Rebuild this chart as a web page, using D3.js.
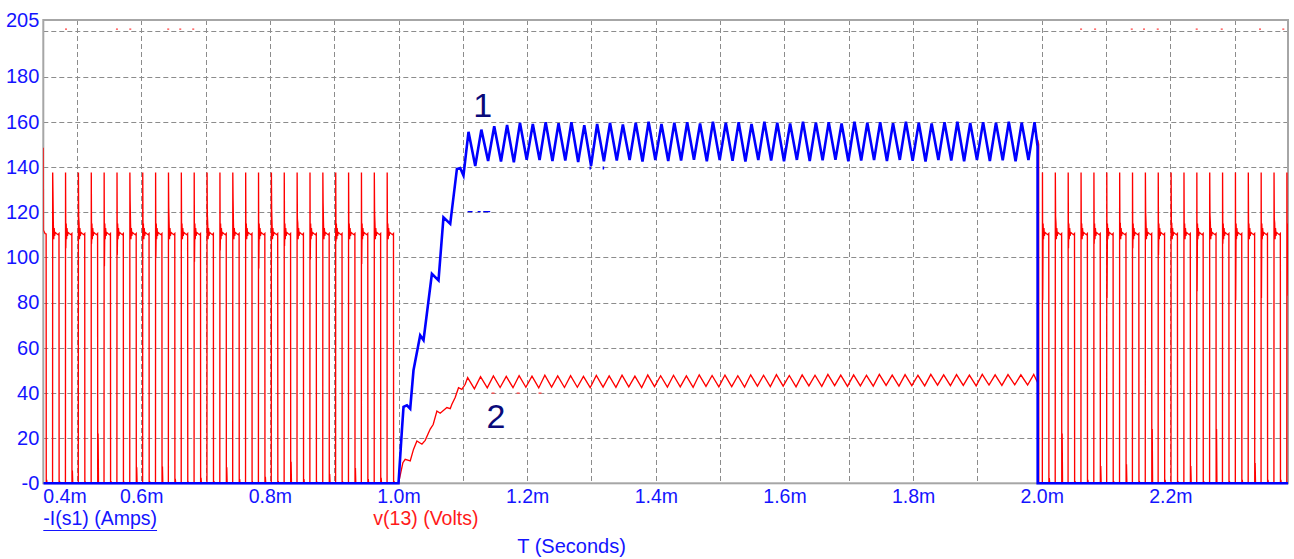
<!DOCTYPE html>
<html>
<head>
<meta charset="utf-8">
<script src="https://cdn.jsdelivr.net/npm/d3@7"></script>
<style>
  body { margin: 0; background: #fff; }
  svg { display: block; font-family: "Liberation Sans", Arial, sans-serif; }
</style>
</head>
<body>
<svg id="chart" width="1294" height="559"></svg>
<script>
// ---- Axis setup (time in milliseconds) ----
const tStart = 0.4478, tEnd = 2.3828;
const yTicks = [0, 20, 40, 60, 80, 100, 120, 140, 160, 180, 205];
const yGrid = [20, 40, 60, 80, 100, 120, 140, 160, 180, 200];
const xTickLabels = [0.4, 0.6, 0.8, 1.0, 1.2, 1.4, 1.6, 1.8, 2.0, 2.2];
const xGrid = [0.5, 0.6, 0.7, 0.8, 0.9, 1.0, 1.1, 1.2, 1.3, 1.4, 1.5, 1.6, 1.7, 1.8, 1.9, 2.0, 2.1, 2.2, 2.3];

// ---- v(13): switching pulses before and after the conduction interval ----
const leftRise = [0.4622, 0.4822, 0.5022, 0.5222, 0.5422, 0.5622, 0.5822, 0.6022, 0.6222,
  0.6422, 0.6622, 0.6822, 0.7022, 0.7222, 0.7422, 0.7622, 0.7822, 0.8022, 0.8222,
  0.8422, 0.8622, 0.8822, 0.9022, 0.9222, 0.9422, 0.9622, 0.9822];
const leftDip = [129, 104, 118, 106, 96, 101, 125, 112, 100, 122, 108, 98, 119, 103,
  126, 110, 95, 121, 105, 117, 99, 124, 107, 113, 97, 120, 111];
const leftLowSpike = [1, 5.6, 0.5, 22, 1, 0.5, 7.1, 1, 7.4, 2, 0.5, 2.4, 1, 7.1,
  1.9, 0.5, 2.9, 1, 9.5, 1.9, 0.5, 4.1, 0.8, 6.8, 1.9, 2.4, 1];

const rightRise = [2.0009, 2.0209, 2.0409, 2.0609, 2.0809, 2.1009, 2.1209, 2.1409, 2.1609,
  2.1809, 2.2009, 2.2209, 2.2409, 2.2609, 2.2809, 2.3009, 2.3209, 2.3409, 2.3609, 2.3809];
const rightDip = [81, 118, 104, 110, 106, 82, 115, 104, 120, 101, 115, 108, 85, 119,
  106, 81, 112, 82, 117, 83];
const rightLowSpike = [2.3, 22, 1, 1.5, 7.6, 1, 8.4, 1, 24, 1.5, 1, 7.6, 1, 24,
  1, 1.5, 9, 1.5, 1.5, 0];

// One switching cycle: time offsets from the rising edge and the voltage at each
const pulseDt = [0, 0.0002, 0.0006, 0.0012, 0.0018, 0.0025, 0.0032, 0.0040, 0.0060, 0.0085, 0.0100];
const pulseV  = [0, 137.5, null, 115, 108, 113, 109.5, 111, 110.5, 110, 110.5];
const fallDt = [0.0102, 0.0108, 0.0114];

const redLead = [[0.4478, 148.5], [0.4480, 112], [0.4505, 110.5], [0.4522, 110.3],
  [0.4524, 0], [0.4530, 1.5], [0.4536, 0]];

// ---- v(13) during conduction: ramp then ripple ----
const redRampT = [1.0000, 1.0068, 1.0104, 1.0182, 1.0233, 1.0286, 1.0364, 1.0415, 1.0493,
  1.0539, 1.0597, 1.0648, 1.0752, 1.0804, 1.0830, 1.0881, 1.0933, 1.0985, 1.1037];
const redRampV = [0, 9.1, 10.6, 9.9, 15, 18.7, 17.3, 19, 24, 26, 32, 31, 33.5, 33, 35,
  38, 42.3, 41.6, 43.8];
const redRippleStart = 1.1075;
const redPeaks = [46.8, 47.2, 47.5, 47.3, 47.6, 47.4, 47.8, 47.5, 47.6, 47.3, 47.7, 47.5,
  47.8, 47.4, 47.9, 47.6, 47.8, 47.5, 48.0, 47.7, 47.9, 47.6, 48.0, 47.8, 48.1, 47.7,
  48.0, 47.8, 48.2, 47.9, 48.0, 47.8, 48.2, 47.9, 48.1, 47.8, 48.2, 48.0, 48.1, 47.9,
  48.2, 48.0, 48.1, 48.0, 48.2];
const redTroughs = [41.8, 42.2, 42.4, 42.3, 42.5, 42.2, 42.6, 42.4, 42.5, 42.3, 42.6, 42.5,
  42.7, 42.4, 42.8, 42.6, 42.7, 42.5, 42.9, 42.7, 42.8, 42.6, 43.0, 42.8, 43.0, 42.7,
  43.1, 42.9, 43.2, 42.9, 43.1, 43.0, 43.3, 43.0, 43.2, 43.1, 43.4, 43.2, 43.3, 43.1,
  43.5, 43.3, 43.6, 43.5];
const redTail = [[1.9935, 44.6], [1.9936, 152], [1.9952, 150], [1.9954, 0]];

// ---- -I(s1): ramp, ripple, turn-off ----
const blueRampT = [1.0000, 1.0053, 1.0078, 1.0131, 1.0182, 1.0233, 1.0337, 1.0389, 1.0519,
  1.0622, 1.0699, 1.0804, 1.0908, 1.0959, 1.1010];
const blueRampV = [0, 23.5, 33.8, 34.5, 33, 50, 65.5, 63.3, 92.7, 89.8, 117.7, 114.8,
  139.1, 139.5, 136.2];
const blueRippleStart = 1.1088;
const bluePeaks = [155.5, 156.5, 158, 158.5, 159.5, 159, 159.8, 159.3, 159.8, 158.5, 159,
  159.5, 158.8, 159.5, 160, 159, 159.5, 159.8, 159.2, 160, 159.5, 159.8, 159, 160, 159.5,
  159.2, 160, 159.6, 159.8, 159.2, 160, 159.5, 159.8, 159.3, 160, 159.6, 159.2, 159.8,
  160, 159.4, 159.8, 159.5, 160, 159.6, 159.8];
const blueTroughs = [140.4, 142.6, 142.4, 142, 143.2, 143, 142.6, 142.8, 142.2, 140.5,
  142.5, 142.8, 143, 142.4, 143, 142.6, 142.8, 143.2, 142.5, 143, 142.7, 142.4, 143,
  142.8, 142.5, 143.1, 142.6, 142.9, 143.2, 142.5, 142.8, 143, 142.6, 143.1, 142.7,
  142.4, 143, 142.8, 142.5, 143.1, 142.6, 142.9, 142.5, 143];
const blueTail = [[1.9935, 149], [1.9937, 0], [2.3828, 0]];

// switching period and ripple trough offset (ms)
const period = 0.02;
const troughOffset = 0.0105;

// small stray marks on the display
const redStrayTop = [0.4831, 0.5623, 0.5830, 0.6420, 0.6607, 0.6809, 2.0611, 2.0829,
  2.1399, 2.1590, 2.1803, 2.2409, 2.2798, 2.3393, 2.3755];
const redStrayTopV = 201;
const redStrayMid = [1.1470, 1.1860, 1.2200];
const redStrayMidV = 39.9;
const blueStraySeg = [[1.1074, 1.1151], [1.1230, 1.1277], [1.1317, 1.1426]];
const blueStraySegV = 120.2;
const blueStrayDots = [1.2980, 1.3185];
const blueStrayDotsV = 139.5;

const annotations = [
  { text: "1", t: 1.1309, v: 161.9 },
  { text: "2", t: 1.1515, v: 24.3 }
];

// ---- Build traces ----
function pulseTrain(rises, dips, lows) {
  const pts = [];
  rises.forEach((tr, i) => {
    pulseDt.forEach((dt, j) => {
      pts.push([tr + dt, j === 2 ? dips[i] : pulseV[j]]);
    });
    pts.push([tr + fallDt[0], 0]);
    pts.push([tr + fallDt[1], lows[i]]);
    pts.push([tr + fallDt[2], 0]);
  });
  return pts;
}
function ripple(start, peaks, troughs) {
  const pts = [];
  peaks.forEach((p, k) => {
    pts.push([start + k * period, p]);
    if (k < troughs.length) pts.push([start + k * period + troughOffset, troughs[k]]);
  });
  return pts;
}

const redData = [].concat(
  redLead,
  pulseTrain(leftRise, leftDip, leftLowSpike),
  redRampT.map((t, i) => [t, redRampV[i]]),
  ripple(redRippleStart, redPeaks, redTroughs),
  redTail,
  pulseTrain(rightRise, rightDip, rightLowSpike)
);
const blueData = [].concat(
  [[tStart, 0]],
  blueRampT.map((t, i) => [t, blueRampV[i]]),
  ripple(blueRippleStart, bluePeaks, blueTroughs),
  blueTail
);

// ---- Drawing ----
const L = 43.3, R = 1288, T = 20, B = 483.3;
const svg = d3.select("#chart");
const x = d3.scaleLinear().domain([tStart, tEnd]).range([L, R]);
const y = d3.scaleLinear().domain([0, 205]).range([B, T]);
const snap = v => Math.round(v) + 0.5;

svg.append("defs").append("clipPath").attr("id", "plot")
  .append("rect").attr("x", L).attr("y", T - 2).attr("width", R - L).attr("height", B - T + 4);

const grid = svg.append("g").attr("stroke", "#8c8c8c").attr("stroke-width", 1)
  .attr("stroke-dasharray", "5,3");
grid.selectAll("line.v").data(xGrid).join("line").attr("class", "v")
  .attr("x1", d => snap(x(d))).attr("x2", d => snap(x(d)))
  .attr("y1", T).attr("y2", B);
grid.selectAll("line.h").data(yGrid).join("line").attr("class", "h")
  .attr("x1", L).attr("x2", R)
  .attr("y1", d => snap(y(d))).attr("y2", d => snap(y(d)));

svg.append("rect").attr("x", L).attr("y", T).attr("width", R - L).attr("height", B - T)
  .attr("fill", "none").attr("stroke", "#a6a6a6").attr("stroke-width", 2);

const line = d3.line().x(d => x(d[0])).y(d => y(d[1]));
const traces = svg.append("g").attr("clip-path", "url(#plot)");

traces.append("path").datum(redData).attr("d", line)
  .attr("fill", "none").attr("stroke", "#ff0000").attr("stroke-width", 1.35)
  .attr("stroke-linejoin", "miter");

traces.selectAll("line.rst").data(redStrayTop).join("line").attr("class", "rst")
  .attr("x1", d => x(d) - 1).attr("x2", d => x(d) + 1)
  .attr("y1", y(redStrayTopV)).attr("y2", y(redStrayTopV))
  .attr("stroke", "#ff4040").attr("stroke-width", 1.2);
traces.selectAll("line.rsm").data(redStrayMid).join("line").attr("class", "rsm")
  .attr("x1", d => x(d) - 1.5).attr("x2", d => x(d) + 1.5)
  .attr("y1", y(redStrayMidV)).attr("y2", y(redStrayMidV))
  .attr("stroke", "#ff4040").attr("stroke-width", 1.2);

traces.append("path").datum(blueData).attr("d", line)
  .attr("fill", "none").attr("stroke", "#0000ff").attr("stroke-width", 2.6)
  .attr("stroke-linejoin", "miter");

traces.selectAll("line.bss").data(blueStraySeg).join("line").attr("class", "bss")
  .attr("x1", d => x(d[0])).attr("x2", d => x(d[1]))
  .attr("y1", y(blueStraySegV)).attr("y2", y(blueStraySegV))
  .attr("stroke", "#0000ff").attr("stroke-width", 1.2);
traces.selectAll("line.bsd").data(blueStrayDots).join("line").attr("class", "bsd")
  .attr("x1", d => x(d)).attr("x2", d => x(d))
  .attr("y1", y(blueStrayDotsV) - 1.5).attr("y2", y(blueStrayDotsV) + 1.5)
  .attr("stroke", "#0000ff").attr("stroke-width", 1.5);

// ---- Axes ----
const blueText = "#1414ff";
const yAxis = svg.append("g").attr("transform", `translate(${L},0)`)
  .call(d3.axisLeft(y).tickValues(yTicks).tickSize(0).tickPadding(4)
    .tickFormat(d => d === 0 ? "-0" : String(d)));
yAxis.select(".domain").remove();
yAxis.selectAll("text").attr("font-size", 20).attr("fill", blueText)
  .attr("font-family", "Liberation Sans, Arial, sans-serif");

const xAxis = svg.append("g").attr("transform", `translate(0,${B})`)
  .call(d3.axisBottom(x).tickValues(xTickLabels).tickSize(0).tickPadding(5.5)
    .tickFormat(d => d.toFixed(1) + "m"));
xAxis.select(".domain").remove();
xAxis.selectAll("text").attr("font-size", 19.5).attr("fill", blueText)
  .attr("font-family", "Liberation Sans, Arial, sans-serif")
  .each(function () {
    const bb = this.getBBox();
    const tr = this.parentNode.transform.baseVal.consolidate().matrix.e;
    if (tr + bb.x < L) {
      d3.select(this).attr("text-anchor", "start").attr("x", L - tr);
    }
  });

// ---- Trace labels ----
const leg1 = svg.append("text").attr("x", L).attr("y", 524.5)
  .attr("font-size", 19.5).attr("fill", blueText).text("-I(s1) (Amps)");
const lb = leg1.node().getBBox();
svg.append("line").attr("x1", L).attr("x2", lb.x + lb.width)
  .attr("y1", 530.5).attr("y2", 530.5).attr("stroke", blueText).attr("stroke-width", 1);
svg.append("text").attr("x", 373.3).attr("y", 524.5)
  .attr("font-size", 19.5).attr("fill", "#ff1a1a").text("v(13) (Volts)");
svg.append("text").attr("x", 517.3).attr("y", 553)
  .attr("font-size", 20).attr("fill", blueText).text("T (Seconds)");

svg.selectAll("text.ann").data(annotations).join("text").attr("class", "ann")
  .attr("x", d => x(d.t)).attr("y", d => y(d.v))
  .attr("text-anchor", "middle").attr("font-size", 34)
  .attr("fill", "#0a0a7a").text(d => d.text);
</script>
</body>
</html>
